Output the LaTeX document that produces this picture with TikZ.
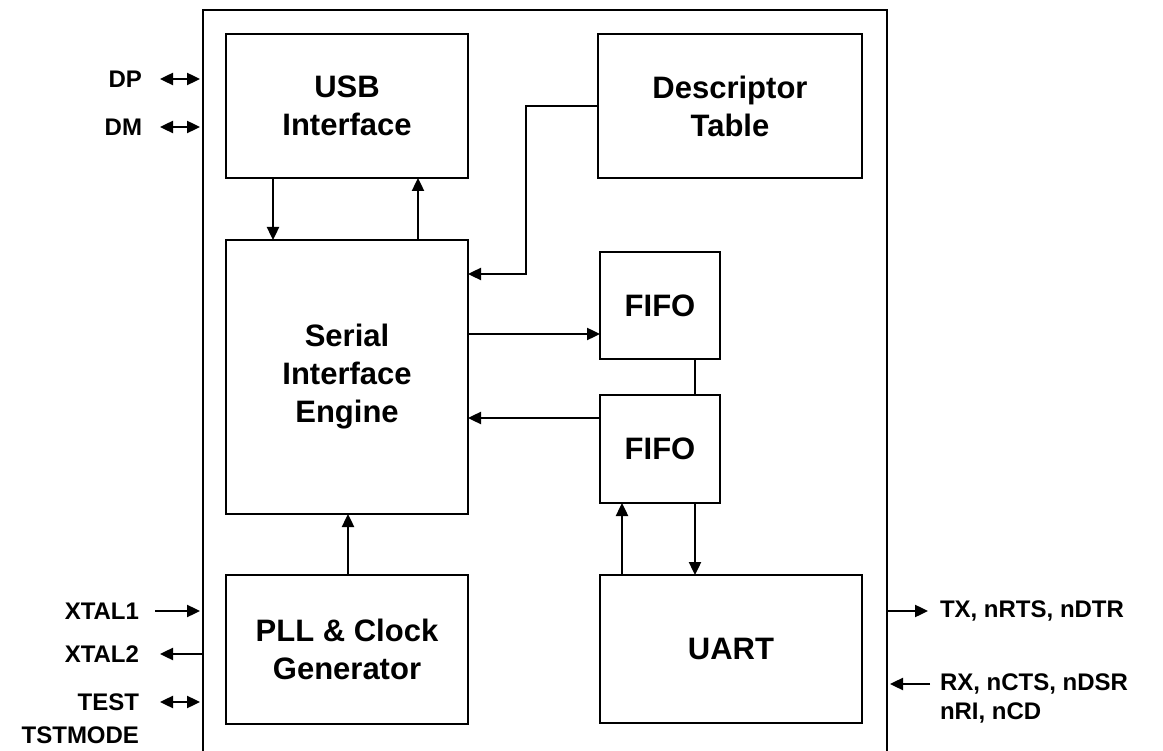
\documentclass[tikz,border=0pt]{standalone}
\usepackage{fontspec}
\setmainfont{Liberation Sans}
\usetikzlibrary{positioning,calc,arrows.meta}
\tikzstyle{line} = [draw,line width=2.4pt]

\begin{document}
\begin{tikzpicture}[x=1pt,y=-1pt,
                block/.style = {draw, line width=2.7pt, inner sep=0pt, outer sep=0pt,
                  anchor=north west, align=center,
                  font=\fontsize{31}{38}\selectfont\bfseries},
                pin/.style = {inner sep=0pt, outer sep=0pt, align=left,
                  font=\fontsize{24}{29}\selectfont\bfseries},
                arr/.style = {line, -{Triangle[length=13pt,width=12pt]}},
                darr/.style = {line, {Triangle[length=13pt,width=12pt]}-{Triangle[length=13pt,width=12pt]}}]
                \useasboundingbox (0,0) rectangle (1163,751);
                \clip (0,0) rectangle (1163,751);
                % chip outline
                \node[block, minimum width=684pt, minimum height=770pt] (chip) at (203,10) {};
                % inner blocks
                \node[block, minimum width=242pt, minimum height=144pt] (usb) at (226,34) {USB\\Interface};
                \node[block, minimum width=264pt, minimum height=144pt] (desc) at (598,34) {Descriptor\\Table};
                \node[block, minimum width=242pt, minimum height=274pt] (sie) at (226,240) {Serial\\Interface\\Engine};
                \node[block, minimum width=120pt, minimum height=107pt] (fifo1) at (600,252) {FIFO};
                \node[block, minimum width=120pt, minimum height=108pt] (fifo2) at (600,395) {FIFO};
                \node[block, minimum width=242pt, minimum height=149pt] (pll) at (226,575) {PLL \& Clock\\Generator};
                \node[block, minimum width=262pt, minimum height=148pt] (uart) at (600,575) {UART};
                % internal connections
                \path[arr] ($(usb.south west)+(47,0)$) -- ($(sie.north west)+(47,0)$);
                \path[arr] ($(sie.north west)+(192,0)$) -- ($(usb.south west)+(192,0)$);
                \path[arr] (desc.west) -- ++(-72,0) |- ($(sie.north east)+(0,34)$);
                \path[arr] ($(sie.north east)+(0,94)$) -- ($(fifo1.north west)+(0,82)$);
                \path[line] ($(fifo1.south west)+(95,0)$) -- ($(fifo2.north west)+(95,0)$);
                \path[arr] ($(fifo2.north west)+(0,23)$) -- ($(sie.north east)+(0,178)$);
                \path[arr] ($(uart.north west)+(22,0)$) -- ($(fifo2.south west)+(22,0)$);
                \path[arr] ($(fifo2.south west)+(95,0)$) -- ($(uart.north west)+(95,0)$);
                \path[arr] ($(pll.north west)+(122,0)$) -- ($(sie.south west)+(122,0)$);
                % left pins
                \node[pin, anchor=east] (dp) at (142,79) {DP};
                \node[pin, anchor=east] (dm) at (142,127) {DM};
                \node[pin, anchor=east] (xtal1) at (139,611) {XTAL1};
                \node[pin, anchor=east] (xtal2) at (139,654) {XTAL2};
                \node[pin, anchor=east] (test) at (139,702) {TEST};
                \node[pin, anchor=east] (tstmode) at (139,735) {TSTMODE};
                \path[darr, shorten >=3pt] ($(dp.east)+(18,0)$) -- (dp -| chip.west);
                \path[darr, shorten >=3pt] ($(dm.east)+(18,0)$) -- (dm -| chip.west);
                \path[arr, shorten >=3pt] ($(xtal1.east)+(16,0)$) -- (xtal1 -| chip.west);
                \path[arr] (xtal2 -| chip.west) -- ($(xtal2.east)+(21,0)$);
                \path[darr, shorten >=3pt] ($(test.east)+(21,0)$) -- (test -| chip.west);
                % right pins
                \node[pin, anchor=west] (tx) at (940,611) {TX, nRTS, nDTR};
                \node[pin, anchor=west] (rx) at (940,684) {RX, nCTS, nDSR};
                \node[pin, anchor=west] (nri) at (940,713) {nRI, nCD};
                \path[arr] (tx -| chip.east) -- ($(tx.west)+(-12,0)$);
                \path[arr, shorten >=3pt] ($(rx.west)+(-10,0)$) -- (rx -| chip.east);
            \end{tikzpicture}
\end{document}
